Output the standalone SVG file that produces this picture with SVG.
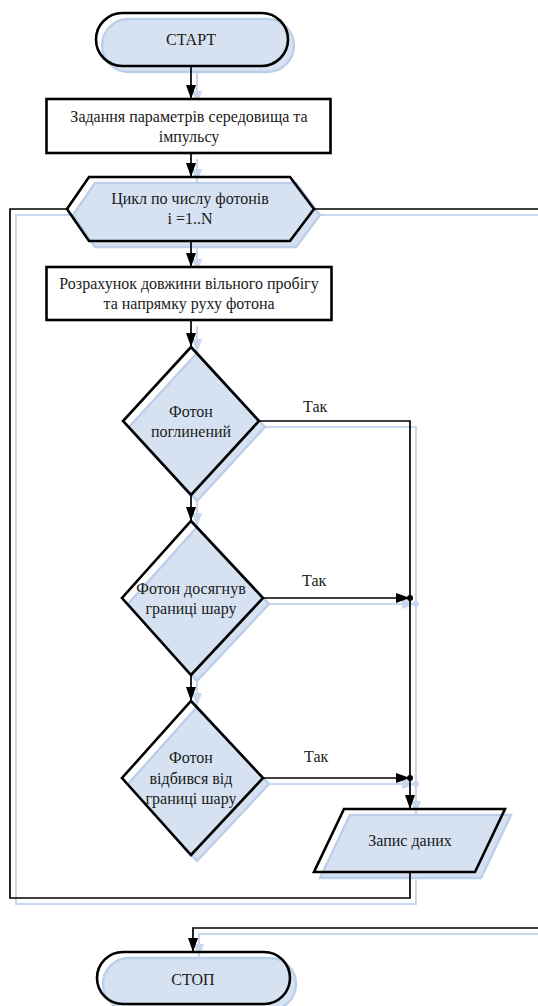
<svg xmlns="http://www.w3.org/2000/svg" width="538" height="1006" viewBox="0 0 538 1006">
<style>
  text { font-family: 'Liberation Serif', 'DejaVu Serif', serif; font-size: 16px; fill: #1a1a1a; }
  .mid { text-anchor: middle; }
  .outline { fill: none; stroke: #000; stroke-width: 2.6; stroke-linejoin: miter; }
  .box { fill: #ffffff; stroke: #000; stroke-width: 2.6; }
  .shadow { fill: #d6e2f1; stroke: #bccfe9; stroke-width: 2.4; }
  .conn { fill: none; stroke: #000; stroke-width: 1.7; }
  .connShadow { fill: none; stroke: #c8d8ee; stroke-width: 2; }
</style>
<defs>
  <marker id="arrow" markerUnits="userSpaceOnUse" markerWidth="15" markerHeight="11" refX="14" refY="5" orient="auto">
    <path d="M0,0 L14,5 L0,10 z" fill="#000"/>
  </marker>
  <marker id="arrowShadow" markerUnits="userSpaceOnUse" markerWidth="15" markerHeight="11" refX="14" refY="5" orient="auto">
    <path d="M0,0 L14,5 L0,10 z" fill="#c8d8ee"/>
  </marker>
</defs>
<rect width="538" height="1006" fill="#ffffff"/>

<!-- connector shadows -->
<g id="connector-shadows" transform="translate(6,6)">
  <path class="connShadow" d="M191,66 V99" marker-end="url(#arrowShadow)"/>
  <path class="connShadow" d="M191,153 V177" marker-end="url(#arrowShadow)"/>
  <path class="connShadow" d="M191,241 V267" marker-end="url(#arrowShadow)"/>
  <path class="connShadow" d="M191,320 V347" marker-end="url(#arrowShadow)"/>
  <path class="connShadow" d="M191,495 V521" marker-end="url(#arrowShadow)"/>
  <path class="connShadow" d="M191,675 V701" marker-end="url(#arrowShadow)"/>
  <path class="connShadow" d="M259,421 H410 V809" marker-end="url(#arrowShadow)"/>
  <path class="connShadow" d="M263,598 H410" marker-end="url(#arrowShadow)"/>
  <path class="connShadow" d="M263,778 H410" marker-end="url(#arrowShadow)"/>
  <path class="connShadow" d="M410,872 V898 H10 V209 H67"/>
  <path class="connShadow" d="M314,209 H540"/>
  <path class="connShadow" d="M540,928 H193 V952" marker-end="url(#arrowShadow)"/>
  <circle cx="410" cy="598" r="3" fill="#c8d8ee"/>
  <circle cx="410" cy="778" r="3" fill="#c8d8ee"/>
</g>

<g font-family="Liberation Serif, DejaVu Serif, serif" font-size="16">
<!-- nodes -->
<g id="start">
  <rect class="shadow" x="102" y="19" width="192" height="53" rx="26.5"/>
  <rect class="outline" x="96" y="13" width="192" height="53" rx="26.5"/>
  <text class="mid" x="191" y="44.5">СТАРТ</text>
</g>

<g id="params">
  <rect class="box" x="46.5" y="99" width="284" height="54"/>
  <text class="mid" x="189" y="121.5">Задання параметрів середовища та</text>
  <text class="mid" x="189" y="141.5">імпульсу</text>
</g>

<g id="loop">
  <polygon class="shadow" points="73,215 95,183 296,183 320,215 296,247 95,247"/>
  <polygon class="outline" points="67,209 89,177 290,177 314,209 290,241 89,241"/>
  <text class="mid" x="190" y="204">Цикл по числу фотонів</text>
  <text class="mid" x="190" y="224">i =1..N</text>
</g>

<g id="calc">
  <rect class="box" x="46.5" y="267" width="285" height="53"/>
  <text class="mid" x="189" y="288.5">Розрахунок довжини вільного пробігу</text>
  <text class="mid" x="189" y="308.5">та напрямку руху фотона</text>
</g>

<g id="absorbed">
  <polygon class="shadow" points="197,353 265,427 197,501 129,427"/>
  <polygon class="outline" points="191,347 259,421 191,495 123,421"/>
  <text class="mid" x="191" y="416.5">Фотон</text>
  <text class="mid" x="191" y="436.5">поглинений</text>
</g>

<g id="boundary">
  <polygon class="shadow" points="197,527 269,604 197,681 128,604"/>
  <polygon class="outline" points="191,521 263,598 191,675 122,598"/>
  <text class="mid" x="191" y="593.5">Фотон досягнув</text>
  <text class="mid" x="191" y="613.5">границі шару</text>
</g>

<g id="reflected">
  <polygon class="shadow" points="197,707 269,784 197,861 128,784"/>
  <polygon class="outline" points="191,701 263,778 191,855 122,778"/>
  <text class="mid" x="191" y="763">Фотон</text>
  <text class="mid" x="191" y="783.5">відбився від</text>
  <text class="mid" x="191" y="804">границі шару</text>
</g>

<g id="record">
  <polygon class="shadow" points="350,815 511,815 481,878 320,878"/>
  <polygon class="outline" points="344,809 505,809 475,872 314,872"/>
  <text class="mid" x="410" y="846">Запис даних</text>
</g>

<g id="stop">
  <rect class="shadow" x="103" y="958" width="193" height="52" rx="26"/>
  <rect class="outline" x="97" y="952" width="193" height="52" rx="26"/>
  <text class="mid" x="193" y="985">СТОП</text>
</g>

<!-- connectors -->
<g id="connectors">
  <path class="conn" d="M191,66 V99" marker-end="url(#arrow)"/>
  <path class="conn" d="M191,153 V177" marker-end="url(#arrow)"/>
  <path class="conn" d="M191,241 V267" marker-end="url(#arrow)"/>
  <path class="conn" d="M191,320 V347" marker-end="url(#arrow)"/>
  <path class="conn" d="M191,495 V521" marker-end="url(#arrow)"/>
  <path class="conn" d="M191,675 V701" marker-end="url(#arrow)"/>
  <path class="conn" d="M259,421 H410 V809" marker-end="url(#arrow)"/>
  <path class="conn" d="M263,598 H410" marker-end="url(#arrow)"/>
  <path class="conn" d="M263,778 H410" marker-end="url(#arrow)"/>
  <circle cx="410" cy="598" r="3" fill="#000"/>
  <circle cx="410" cy="778" r="3" fill="#000"/>
  <path class="conn" d="M410,872 V898 H10 V209 H67"/>
  <path class="conn" d="M314,209 H540"/>
  <path class="conn" d="M540,928 H193 V952" marker-end="url(#arrow)"/>
  <text x="303" y="411.5">Так</text>
  <text x="302" y="586">Так</text>
  <text x="304" y="762">Так</text>
</g>
</g>
</svg>
